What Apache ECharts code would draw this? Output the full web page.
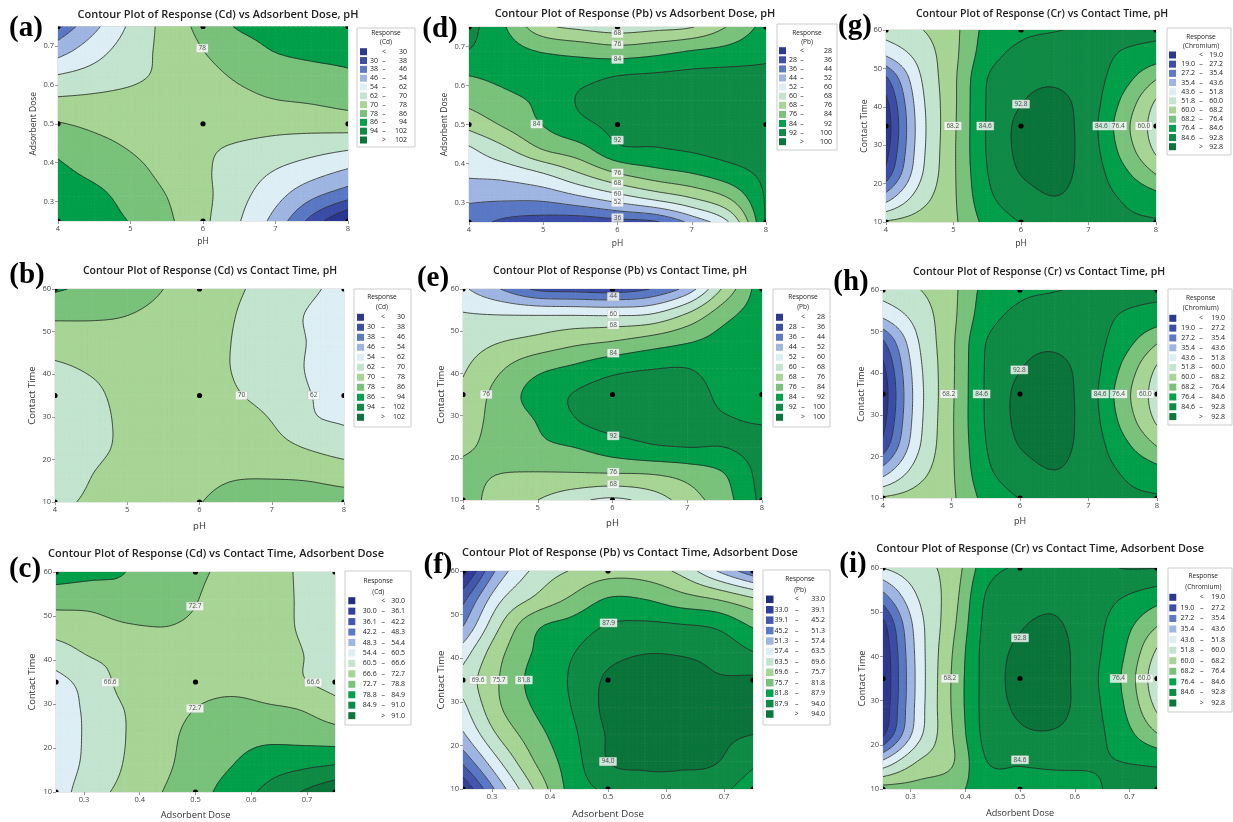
<!DOCTYPE html>
<html><head><meta charset="utf-8">
<script src="https://cdn.jsdelivr.net/npm/echarts@6/dist/echarts.min.js"></script>
<style>html,body{margin:0;padding:0;background:#fff}#c{width:1233px;height:822px}</style>
</head><body><div id="c"></div>
<script>
// ---------- sample grids ----------
const pHGrid = [4, 4.5, 5, 5.5, 6, 6.5, 7, 7.5, 8];
const doseGrid = [0.25, 0.3125, 0.375, 0.4375, 0.5, 0.5625, 0.625, 0.6875, 0.75];
const timeGrid = [10, 16.25, 22.5, 28.75, 35, 41.25, 47.5, 53.75, 60];
const designPH = [4, 6, 8];
const designDose = [0.25, 0.5, 0.75];
const designTime = [10, 35, 60];
const pHTicks = [4, 5, 6, 7, 8];
const doseTicks = [0.3, 0.4, 0.5, 0.6, 0.7];
const timeTicks = [10, 20, 30, 40, 50, 60];

// contour levels (legend break points)
const cdLevels = [30, 38, 46, 54, 62, 70, 78, 86, 94, 102];
const pbLevels = [28, 36, 44, 52, 60, 68, 76, 84, 92, 100];
const crLevels = [19.0, 27.2, 35.4, 43.6, 51.8, 60.0, 68.2, 76.4, 84.6, 92.8];
const cdLevelsC = [30.0, 36.1, 42.2, 48.3, 54.4, 60.5, 66.6, 72.7, 78.8, 84.9, 91.0];
const pbLevelsF = [33.0, 39.1, 45.2, 51.3, 57.4, 63.5, 69.6, 75.7, 81.8, 87.9, 94.0];

// (a) Cd : rows = dose (low->high), cols = pH
const cdDosePH = [
  [93, 89.5, 85.6, 79.5, 71.7, 62.4, 51, 35.1, 20],
  [90.4, 88, 83.2, 78, 72, 64.3, 56.4, 47.3, 40.2],
  [87.8, 84.2, 80.4, 76, 71.2, 66.2, 61.4, 57, 52.3],
  [84.2, 80.4, 77.6, 74.9, 71.4, 68.9, 66.9, 64.9, 63],
  [78.5, 76.5, 75.5, 74.5, 74, 73.5, 72.8, 73, 73.7],
  [70.9, 71.5, 72.5, 74, 75, 76.5, 78, 79, 80.8],
  [62.2, 65, 68, 72, 75.8, 79, 81, 83, 84.9],
  [50.7, 58.8, 66, 72.3, 77.9, 82.5, 86.3, 88, 88.5],
  [40, 52, 63.4, 72.8, 80.4, 86.8, 88.5, 90, 91]
];
// (b) Cd : rows = time, cols = pH
const cdTimePH = [
  [68.5, 71, 73.5, 75.5, 77.8, 80, 80.5, 80.5, 80.5],
  [66, 69.9, 73, 75, 76.5, 77.5, 77.5, 77, 75.5],
  [65, 68.2, 71.4, 73.5, 75, 74.5, 73, 69.8, 66.5],
  [65, 68.1, 71.2, 73, 74, 73, 70, 63.5, 61.5],
  [65.5, 68.6, 71.8, 73, 73.5, 70.6, 67.5, 62.5, 58.5],
  [68.5, 70.8, 72.7, 74, 73, 69.5, 66.2, 61.5, 56.5],
  [73.8, 74.5, 75.5, 75, 73.5, 69.5, 66, 61.8, 57],
  [79.2, 78.9, 78, 76.5, 74, 70, 65.7, 61.5, 57],
  [87, 84, 80.5, 78, 74.5, 71, 67.3, 63.7, 59]
];
// (c) Cd : rows = time, cols = dose
const cdTimeDose = [
  [57, 64.5, 68, 72.5, 76.5, 81.2, 86.1, 91, 96],
  [56, 62.5, 67, 71, 75.5, 78.5, 82, 83.5, 84.8],
  [56, 62, 66.6, 70, 75, 76.5, 77.5, 77, 76],
  [57, 62, 66.8, 69.5, 72.8, 74, 73.5, 72.6, 69.3],
  [58.5, 63, 68.5, 70, 71, 71.5, 70.5, 67.3, 64.5],
  [63.9, 67, 68.5, 70.5, 71, 71, 70, 67, 62.5],
  [69, 70, 72, 72.7, 72, 71.5, 70, 66, 62.5],
  [75.1, 75.1, 77, 75.5, 72.9, 71, 69.5, 66, 63],
  [82, 80.5, 78.8, 75.5, 73.5, 71.5, 69, 66, 63.5]
];
// (d) Pb : rows = dose, cols = pH
const pbDosePH = [
  [40, 34, 32, 31, 33, 35, 46.4, 60.1, 93],
  [45.5, 45.5, 46.2, 50.7, 56.5, 62.4, 68.2, 76.4, 93],
  [53.5, 55.1, 60, 68, 76, 80.8, 84, 88.5, 94],
  [58.8, 67, 76.5, 81.4, 90.5, 91.5, 93, 95, 96],
  [70.7, 77.4, 84.3, 90, 94, 95, 96.5, 97, 97],
  [78.3, 82, 86, 92.8, 95, 97, 98, 98, 97],
  [84, 86, 88, 89.5, 92, 93, 94, 94.5, 94],
  [91.6, 87, 83.5, 81.5, 79.7, 81.5, 84.5, 86.5, 90],
  [95, 84, 70.3, 66.2, 64, 65.5, 67.6, 76.8, 87]
];
// (e) Pb : rows = time, cols = pH
const pbTimePH = [
  [79, 73, 68, 62, 58.5, 63, 72, 81, 94],
  [77, 76, 75.5, 75.5, 75.8, 76.3, 79, 84, 95],
  [75.4, 77.5, 82, 84.1, 88, 91, 92, 92, 95],
  [73, 78.5, 84.5, 91.5, 95, 94.5, 94, 92.5, 91.5],
  [69.9, 79, 87.5, 92.5, 96, 97, 96, 90, 89.5],
  [67, 75, 81.9, 85.5, 89.5, 91.5, 92, 88, 89],
  [64, 67.8, 70.5, 74, 76.3, 79.7, 83.3, 87, 89],
  [60.7, 60.2, 60, 60, 59.8, 61, 69.5, 81.5, 88.5],
  [53.5, 44, 34.5, 33, 32, 36, 47.3, 70, 89]
];
// (f) Pb : rows = time, cols = dose
const pbTimeDose = [
  [33, 54, 70.5, 84, 89, 91.5, 92, 90, 84],
  [46.5, 63, 76, 85, 94, 95, 94.8, 94.2, 89.2],
  [56.5, 70.5, 79.5, 86.5, 94.5, 96.5, 96.5, 95, 94],
  [62, 75, 82.5, 88, 95.5, 97, 97, 96, 95.2],
  [65.5, 75.7, 84, 88.5, 95, 96.5, 96.5, 94.5, 94.8],
  [60.5, 74, 82.5, 87.5, 92, 93.8, 93.5, 92, 88.2],
  [51, 69, 80.5, 84, 88.2, 89, 88.3, 86.8, 81],
  [43, 62, 70.5, 76.5, 82, 81.5, 78, 75, 70],
  [30, 53.5, 65, 70, 73, 72.5, 68, 57.4, 47]
];
// (g) Cr : rows = time, cols = pH
const crTimePH = [
  [61, 64, 67, 79, 84.8, 87, 87.5, 86, 85.5],
  [40, 56, 67, 82.5, 89, 92.5, 89, 84, 79.5],
  [22.4, 50, 67, 84.3, 93, 95, 89.5, 79, 68],
  [16, 48, 67, 85.2, 94.5, 96, 89, 74, 58.5],
  [14, 47.4, 66.7, 85.3, 94.5, 96, 88.6, 71.9, 56],
  [17, 48.5, 66.5, 85.2, 92.5, 94.5, 89, 75, 59],
  [26, 51, 66.5, 84.5, 90, 91.5, 88.5, 80, 69],
  [45, 55, 66, 81, 86.5, 88, 87.5, 84, 81],
  [56, 59.5, 66, 79, 83, 84.3, 85.5, 87, 87]
];
// (h) Cr : rows = time, cols = pH
const crTimePH2 = [
  [61, 64, 67, 79, 84.8, 87, 87.5, 86, 85.5],
  [40, 56, 67, 82.5, 89, 92.5, 89, 84, 79.5],
  [22.4, 50, 67, 84.3, 93, 95, 89.5, 79, 68],
  [16, 48, 67, 85.2, 94.5, 96, 89, 74, 58.5],
  [14, 47.4, 66.7, 85.3, 94.5, 96, 88.6, 71.9, 56],
  [17, 48.5, 66.5, 85.2, 92.5, 94.5, 89, 75, 59],
  [26, 51, 66.5, 84.5, 90, 91.5, 88.5, 80, 69],
  [45, 55, 66, 81, 86.5, 88, 87.5, 84, 81],
  [56, 59.5, 66, 79, 83, 84.3, 85.5, 87, 87]
];
// (i) Cr : rows = time, cols = dose
const crTimeDose = [
  [72, 72, 74, 80, 81, 82, 83, 87, 88],
  [45, 60, 67, 84.3, 85.5, 86, 85.5, 84.5, 83],
  [17, 48, 67.5, 87, 91.5, 92, 88, 80, 68.5],
  [12, 46, 68.5, 87.5, 94, 95.5, 88, 77, 58],
  [11, 45.5, 68.5, 87.5, 95, 96, 87.5, 75.5, 54],
  [12, 46, 67.5, 87.5, 94, 95.5, 88, 77.5, 59],
  [17, 47.5, 65.5, 86.5, 92, 93.5, 88.5, 80, 69.5],
  [33, 52, 64, 85, 89, 91, 89, 85, 80.5],
  [52, 58, 63, 81, 85.5, 88, 90, 93, 93]
];

// contour labels [x, y, text]
const labelsA = [[5.99, 0.694, '78']];
const labelsB = [[6.58, 35, '70'], [7.58, 35, '62']];
const labelsC = [[0.499, 52.2, '72.7'], [0.347, 34.9, '66.6'], [0.499, 29, '72.7'], [0.711, 34.9, '66.6']];
const labelsD = [[6, 0.733, '68'], [6, 0.705, '76'], [6, 0.667, '84'], [4.91, 0.501, '84'], [6, 0.46, '92'],
                 [6, 0.376, '76'], [6, 0.349, '68'], [6, 0.322, '60'], [6, 0.3, '52'], [6, 0.261, '36']];
const labelsE = [[6.01, 58.2, '44'], [6.01, 54, '60'], [6.01, 51.5, '68'], [6.01, 44.8, '84'], [4.31, 35, '76'],
                 [6.01, 25.2, '92'], [6.01, 16.6, '76'], [6.01, 13.7, '68']];
const labelsF = [[0.501, 48.1, '87.9'], [0.276, 35, '69.6'], [0.312, 35, '75.7'], [0.355, 35, '81.8'], [0.5, 16.3, '94.0']];
const labelsG = [[6, 40.7, '92.8'], [4.99, 35, '68.2'], [5.47, 35, '84.6'], [7.19, 35, '84.6'], [7.44, 35, '76.4'], [7.82, 35, '60.0']];
const labelsH = [[5.99, 40.8, '92.8'], [4.96, 35, '68.2'], [5.44, 35, '84.6'], [7.17, 35, '84.6'], [7.44, 35, '76.4'], [7.83, 35, '60.0']];
const labelsI = [[0.5, 44.2, '92.8'], [0.372, 35, '68.2'], [0.68, 35, '76.4'], [0.727, 35, '60.0'], [0.5, 16.6, '84.6']];

// ---------- styles ----------
const colors11 = ['#2c3990', '#3d4ea7', '#5b79c4', '#9fb6e2', '#ddeff5', '#c3e4cf', '#a7d595', '#7ac27c', '#04a04b', '#108b46', '#0b753b'];
const colors12 = ['#242e7e', '#333f9c', '#4458ae', '#5b79c4', '#9fb6e2', '#ddeff5', '#c3e4cf', '#a7d595', '#7ac27c', '#04a04b', '#108b46', '#0b753b'];
const UI = '"Open Sans", "Noto Sans", sans-serif';

const panels = [
  {z: cdDosePH, xs: pHGrid, ys: doseGrid, th: cdLevels, dec: 0, metal: '(Cd)', title: 'Contour Plot of Response (Cd) vs Adsorbent Dose, pH', letter: '(a)',
   xName: 'pH', yName: 'Adsorbent Dose', xT: pHTicks, yT: doseTicks, xD: designPH, yD: designDose, labels: labelsA,
   L: {grid: [58, 26.5, 290, 194.5], title: [218, 15, 11], letter: [26, 29], xGap: 16, yGap: 20, ns: 8.5,
       lg: {x0: 357, y0: 28, x1: 415, y1: 147, tcx: 386, ty1: 33.3, ty2: 42.3, ey0: 51.7, step: 8.83, sx: 360, sw: 7, ln: 378, dx: 384, rn: 407}}},
  {z: pbDosePH, xs: pHGrid, ys: doseGrid, th: pbLevels, dec: 0, metal: '(Pb)', title: 'Contour Plot of Response (Pb) vs Adsorbent Dose, pH', letter: '(d)',
   xName: 'pH', yName: 'Adsorbent Dose', xT: pHTicks, yT: doseTicks, xD: designPH, yD: designDose, labels: labelsD,
   L: {grid: [469, 27, 297, 195], title: [635, 14, 11], letter: [440, 30], xGap: 17, yGap: 20, ns: 8.5,
       lg: {x0: 777, y0: 24, x1: 837, y1: 150, tcx: 807, ty1: 33.3, ty2: 42.3, ey0: 50.7, step: 9.1, sx: 779, sw: 7, ln: 797, dx: 802, rn: 832}}},
  {z: crTimePH, xs: pHGrid, ys: timeGrid, th: crLevels, dec: 1, metal: '(Chromium)', title: 'Contour Plot of Response (Cr) vs Contact Time, pH', letter: '(g)',
   xName: 'pH', yName: 'Contact Time', xT: pHTicks, yT: timeTicks, xD: designPH, yD: designTime, labels: labelsG,
   L: {grid: [886, 30, 270, 192], title: [1042, 14, 10.5], letter: [855, 27], xGap: 17, yGap: 17, ns: 8.7,
       lg: {x0: 1167, y0: 28, x1: 1231, y1: 155, tcx: 1201, ty1: 37.3, ty2: 46, ey0: 55, step: 9.17, sx: 1169, sw: 7, ln: 1195, dx: 1201, rn: 1223}}},
  {z: cdTimePH, xs: pHGrid, ys: timeGrid, th: cdLevels, dec: 0, metal: '(Cd)', title: 'Contour Plot of Response (Cd) vs Contact Time, pH', letter: '(b)',
   xName: 'pH', yName: 'Contact Time', xT: pHTicks, yT: timeTicks, xD: designPH, yD: designTime, labels: labelsB,
   L: {grid: [55, 289, 289, 213], title: [210, 271, 10.5], letter: [27, 276], xGap: 19, yGap: 18, ns: 9.5,
       lg: {x0: 354, y0: 289, x1: 411, y1: 427, tcx: 382, ty1: 297.3, ty2: 307, ey0: 317.3, step: 10, sx: 357, sw: 7, ln: 375, dx: 383, rn: 405}}},
  {z: pbTimePH, xs: pHGrid, ys: timeGrid, th: pbLevels, dec: 0, metal: '(Pb)', title: 'Contour Plot of Response (Pb) vs Contact Time, pH', letter: '(e)',
   xName: 'pH', yName: 'Contact Time', xT: pHTicks, yT: timeTicks, xD: designPH, yD: designTime, labels: labelsE,
   L: {grid: [463, 289, 299, 211], title: [620, 271, 10.5], letter: [433, 279], xGap: 18, yGap: 17, ns: 9.5,
       lg: {x0: 773, y0: 289, x1: 830, y1: 427, tcx: 803, ty1: 297.3, ty2: 307, ey0: 317.3, step: 10, sx: 776, sw: 7, ln: 796.7, dx: 803, rn: 825}}},
  {z: crTimePH2, xs: pHGrid, ys: timeGrid, th: crLevels, dec: 1, metal: '(Chromium)', title: 'Contour Plot of Response (Cr) vs Contact Time, pH', letter: '(h)',
   xName: 'pH', yName: 'Contact Time', xT: pHTicks, yT: timeTicks, xD: designPH, yD: designTime, labels: labelsH,
   L: {grid: [883, 290, 274, 208], title: [1039, 272, 10.5], letter: [851, 283], xGap: 19, yGap: 17, ns: 9,
       lg: {x0: 1168, y0: 289, x1: 1232, y1: 425, tcx: 1200.7, ty1: 298.3, ty2: 308.3, ey0: 318.3, step: 9.83, sx: 1169.3, sw: 7, ln: 1195, dx: 1201, rn: 1225}}},
  {z: cdTimeDose, xs: doseGrid, ys: timeGrid, th: cdLevelsC, dec: 1, metal: '(Cd)', title: 'Contour Plot of Response (Cd) vs Contact Time, Adsorbent Dose', letter: '(c)',
   xName: 'Adsorbent Dose', yName: 'Contact Time', xT: doseTicks, yT: timeTicks, xD: designDose, yD: designTime, labels: labelsC,
   L: {grid: [56, 572, 279, 220], title: [216, 554, 11], letter: [25, 570], xGap: 19, yGap: 19, ns: 9.3,
       lg: {x0: 345, y0: 571, x1: 411, y1: 725, tcx: 378.3, ty1: 580.7, ty2: 591.7, ey0: 600.7, step: 10.45, sx: 348.3, sw: 7, ln: 376.7, dx: 383.3, rn: 405}}},
  {z: pbTimeDose, xs: doseGrid, ys: timeGrid, th: pbLevelsF, dec: 1, metal: '(Pb)', title: 'Contour Plot of Response (Pb) vs Contact Time, Adsorbent Dose', letter: '(f)',
   xName: 'Adsorbent Dose', yName: 'Contact Time', xT: doseTicks, yT: timeTicks, xD: designDose, yD: designTime, labels: labelsF,
   L: {grid: [463, 571, 290, 218], title: [630, 553, 11], letter: [438, 566], xGap: 20, yGap: 17, ns: 9.6,
       lg: {x0: 763, y0: 570, x1: 830, y1: 725, tcx: 800, ty1: 579, ty2: 590, ey0: 599.3, step: 10.43, sx: 766, sw: 7.5, ln: 788.3, dx: 796.7, rn: 825}}},
  {z: crTimeDose, xs: doseGrid, ys: timeGrid, th: crLevels, dec: 1, metal: '(Chromium)', title: 'Contour Plot of Response (Cr) vs Contact Time, Adsorbent Dose', letter: '(i)',
   xName: 'Adsorbent Dose', yName: 'Contact Time', xT: doseTicks, yT: timeTicks, xD: designDose, yD: designTime, labels: labelsI,
   L: {grid: [883, 568, 274, 221], title: [1040, 549, 10.8], letter: [853, 565], xGap: 20, yGap: 16, ns: 9.1,
       lg: {x0: 1168, y0: 568, x1: 1232, y1: 712, tcx: 1203.3, ty1: 576, ty2: 586.7, ey0: 597.3, step: 10.57, sx: 1169.3, sw: 7, ln: 1194.3, dx: 1201.7, rn: 1225}}}
];

// ---------- contour rendering helpers ----------
function zAt(z, ix, iy) {
  const ny = z.length, nx = z[0].length;
  if (ix < 0) return 2 * zAt(z, 0, iy) - zAt(z, 1, iy);
  if (ix > nx - 1) return 2 * zAt(z, nx - 1, iy) - zAt(z, nx - 2, iy);
  if (iy < 0) return 2 * zAt(z, ix, 0) - zAt(z, ix, 1);
  if (iy > ny - 1) return 2 * zAt(z, ix, ny - 1) - zAt(z, ix, ny - 2);
  return z[iy][ix];
}
function cr(p0, p1, p2, p3, t) {
  return p1 + 0.5 * t * (p2 - p0 + t * (2 * p0 - 5 * p1 + 4 * p2 - p3 + t * (3 * (p1 - p2) + p3 - p0)));
}
function sampleSurface(z, fx, fy) {
  const ny = z.length, nx = z[0].length;
  const ix = Math.min(Math.floor(fx), nx - 2), iy = Math.min(Math.floor(fy), ny - 2);
  const tx = fx - ix, ty = fy - iy;
  const col = [];
  for (let m = -1; m <= 2; m++) col.push(cr(zAt(z, ix - 1, iy + m), zAt(z, ix, iy + m), zAt(z, ix + 1, iy + m), zAt(z, ix + 2, iy + m), tx));
  const v = cr(col[0], col[1], col[2], col[3], ty);
  const c = [z[iy][ix], z[iy][ix + 1], z[iy + 1][ix], z[iy + 1][ix + 1]];
  const lo = Math.min.apply(null, c), hi = Math.max.apply(null, c), mg = (hi - lo) * 0.2 + 0.3;
  return Math.max(lo - mg, Math.min(hi + mg, v));
}
function bandOf(v, th) { let k = 0; while (k < th.length && v >= th[k]) k++; return k; }
function clipPoly(poly, t, above) {
  const out = [];
  for (let n = 0; n < poly.length; n++) {
    const P = poly[n], Q = poly[(n + 1) % poly.length];
    const inP = above ? P[2] >= t : P[2] < t;
    const inQ = above ? Q[2] >= t : Q[2] < t;
    if (inP) out.push(P);
    if (inP !== inQ) {
      const r = (t - P[2]) / (Q[2] - P[2]);
      out.push([P[0] + (Q[0] - P[0]) * r, P[1] + (Q[1] - P[1]) * r, t]);
    }
  }
  return out;
}
function polyStr(poly) {
  let s = 'M' + poly[0][0].toFixed(2) + ',' + poly[0][1].toFixed(2);
  for (let n = 1; n < poly.length; n++) s += 'L' + poly[n][0].toFixed(2) + ',' + poly[n][1].toFixed(2);
  return s + 'Z';
}
function cellGeometry(P, api, mode) {
  const i = api.value(4), j = api.value(5);
  const p0 = api.coord([api.value(0), api.value(1)]);
  const p1 = api.coord([api.value(2), api.value(3)]);
  const S = 8, N = S + 1, pts = new Array(N * N);
  for (let b = 0; b <= S; b++) for (let a = 0; a <= S; a++) {
    pts[b * N + a] = [p0[0] + (p1[0] - p0[0]) * a / S, p0[1] + (p1[1] - p0[1]) * b / S, sampleSurface(P.z, i + a / S, j + b / S)];
  }
  const th = P.th, nb = th.length + 1;
  const bands = []; for (let k = 0; k < nb; k++) bands.push([]);
  const lines = [];
  function tri(A, B, C) {
    const vmin = Math.min(A[2], B[2], C[2]), vmax = Math.max(A[2], B[2], C[2]);
    const kmin = bandOf(vmin, th), kmax = bandOf(vmax, th);
    if (mode === 'fill') {
      if (kmin === kmax) { bands[kmin].push(polyStr([A, B, C])); return; }
      for (let k = kmin; k <= kmax; k++) {
        let poly = [A, B, C];
        if (k > kmin) poly = clipPoly(poly, th[k - 1], true);
        if (poly.length >= 3 && k < kmax) poly = clipPoly(poly, th[k], false);
        if (poly.length >= 3) bands[k].push(polyStr(poly));
      }
    } else {
      for (let k = kmin; k < kmax; k++) {
        const t = th[k];
        const e = [];
        const edges = [[A, B], [B, C], [C, A]];
        for (const [U, V] of edges) {
          if ((U[2] < t) !== (V[2] < t)) {
            const r = (t - U[2]) / (V[2] - U[2]);
            e.push([U[0] + (V[0] - U[0]) * r, U[1] + (V[1] - U[1]) * r]);
          }
        }
        if (e.length === 2) lines.push('M' + e[0][0].toFixed(2) + ',' + e[0][1].toFixed(2) + 'L' + e[1][0].toFixed(2) + ',' + e[1][1].toFixed(2));
      }
    }
  }
  for (let b = 0; b < S; b++) for (let a = 0; a < S; a++) {
    const q00 = pts[b * N + a], q10 = pts[b * N + a + 1], q01 = pts[(b + 1) * N + a], q11 = pts[(b + 1) * N + a + 1];
    tri(q00, q10, q11); tri(q00, q11, q01);
  }
  if (mode === 'fill') {
    const children = [];
    bands.forEach((arr, k) => {
      if (arr.length) children.push({type: 'path', shape: {pathData: arr.join('')}, style: {fill: P.colors[k], stroke: P.colors[k], lineWidth: 0.6}});
    });
    return {type: 'group', children: children};
  }
  if (!lines.length) return null;
  return {type: 'path', shape: {pathData: lines.join('')}, style: {fill: 'none', stroke: '#262626', lineWidth: 0.8}};
}

// ---------- build option ----------
const grids = [], xAxes = [], yAxes = [], series = [], graphics = [];
function txt(x, y, s, size, align, extra) {
  return Object.assign({type: 'text', x: x, y: y, z: 20, silent: true,
    style: {text: s, fill: '#222', font: size + 'px ' + UI, textAlign: align, align: align, textVerticalAlign: 'middle', verticalAlign: 'middle'}}, extra || {});
}
function fmtTick(v, isDose) { return isDose ? v.toFixed(1) : String(Math.round(v)); }

panels.forEach((P, k) => {
  P.colors = P.th.length === 11 ? colors12 : colors11;
  const L = P.L;
  grids.push({left: L.grid[0], top: L.grid[1], width: L.grid[2], height: L.grid[3], show: true, borderColor: '#cfcfcf', borderWidth: 1, backgroundColor: 'transparent'});
  const xDose = P.xs === doseGrid, yDose = P.ys === doseGrid;
  xAxes.push({gridIndex: k, type: 'value', min: P.xs[0], max: P.xs[P.xs.length - 1],
    axisLine: {show: false}, splitLine: {show: false},
    axisTick: {show: true, length: 3, lineStyle: {color: '#999'}, customValues: P.xT},
    axisLabel: {customValues: P.xT, formatter: v => fmtTick(v, xDose), fontSize: 7.5, color: '#444', margin: 4, fontFamily: UI},
    name: P.xName, nameLocation: 'middle', nameGap: L.xGap, nameTextStyle: {fontSize: L.ns, color: '#333', fontFamily: UI}});
  yAxes.push({gridIndex: k, type: 'value', min: P.ys[0], max: P.ys[P.ys.length - 1],
    axisLine: {show: false}, splitLine: {show: false},
    axisTick: {show: true, length: 3, lineStyle: {color: '#999'}, customValues: P.yT},
    axisLabel: {customValues: P.yT, formatter: v => fmtTick(v, yDose), fontSize: 7.5, color: '#444', margin: 4, fontFamily: UI},
    name: P.yName, nameLocation: 'middle', nameGap: L.yGap, nameTextStyle: {fontSize: L.ns, color: '#333', fontFamily: UI}});

  const cells = [];
  for (let j = 0; j < P.ys.length - 1; j++) for (let i = 0; i < P.xs.length - 1; i++) {
    cells.push([P.xs[i], P.ys[j], P.xs[i + 1], P.ys[j + 1], i, j]);
  }
  series.push({type: 'custom', coordinateSystem: 'cartesian2d', xAxisIndex: k, yAxisIndex: k, clip: true, silent: true, z: 2,
    data: cells, encode: {x: [0, 2], y: [1, 3]}, renderItem: (params, api) => cellGeometry(P, api, 'fill')});
  series.push({type: 'custom', coordinateSystem: 'cartesian2d', xAxisIndex: k, yAxisIndex: k, clip: true, silent: true, z: 3,
    data: cells, encode: {x: [0, 2], y: [1, 3]}, renderItem: (params, api) => cellGeometry(P, api, 'line')});
  const dots = [];
  P.xD.forEach(x => P.yD.forEach(y => dots.push([x, y])));
  series.push({type: 'custom', coordinateSystem: 'cartesian2d', xAxisIndex: k, yAxisIndex: k, clip: true, silent: true, z: 4,
    data: dots, encode: {x: 0, y: 1}, renderItem: (params, api) => {
      const c = api.coord([api.value(0), api.value(1)]);
      return {type: 'circle', shape: {cx: c[0], cy: c[1], r: 2.6}, style: {fill: '#000'}};
    }});
  series.push({type: 'scatter', xAxisIndex: k, yAxisIndex: k, silent: true, z: 5, symbolSize: 0.5, itemStyle: {color: '#fff'},
    data: P.labels.map(l => ({value: [l[0], l[1]], name: l[2]})),
    label: {show: true, position: 'inside', formatter: '{b}', fontSize: 6.5, color: '#222', fontFamily: UI,
      backgroundColor: '#fff', padding: [1, 2, 0, 2], borderColor: '#bbb', borderWidth: 0.4}});

  // title & letter
  graphics.push(txt(L.title[0], L.title[1], P.title, L.title[2], 'center', {style: {text: P.title, fill: '#222', font: '600 ' + L.title[2] + 'px ' + UI, textAlign: 'center', align: 'center', textVerticalAlign: 'middle', verticalAlign: 'middle'}}));
  graphics.push({type: 'text', x: L.letter[0], y: L.letter[1], z: 20, silent: true,
    style: {text: P.letter, fill: '#000', font: 'bold 29px "Liberation Serif", "Times New Roman", serif', textAlign: 'center', align: 'center', textVerticalAlign: 'middle', verticalAlign: 'middle'}});

  // legend
  const g = L.lg;
  graphics.push({type: 'rect', z: 15, silent: true, shape: {x: g.x0, y: g.y0, width: g.x1 - g.x0, height: g.y1 - g.y0}, style: {fill: '#fff', stroke: '#cbcbcb', lineWidth: 1}});
  graphics.push(txt(g.tcx, g.ty1, 'Response', 6.5, 'center'));
  graphics.push(txt(g.tcx, g.ty2, P.metal, 6.5, 'center'));
  const nb = P.th.length + 1;
  const f = v => v.toFixed(P.dec);
  for (let b = 0; b < nb; b++) {
    const y = g.ey0 + b * g.step;
    graphics.push({type: 'rect', z: 16, silent: true, shape: {x: g.sx, y: y - g.sw / 2, width: g.sw, height: g.sw}, style: {fill: P.colors[b]}});
    if (b === 0) {
      graphics.push(txt(g.dx, y, '<', 7, 'center'));
      graphics.push(txt(g.rn, y, f(P.th[0]), 7, 'right'));
    } else if (b === nb - 1) {
      graphics.push(txt(g.dx, y, '>', 7, 'center'));
      graphics.push(txt(g.rn, y, f(P.th[nb - 2]), 7, 'right'));
    } else {
      graphics.push(txt(g.ln, y, f(P.th[b - 1]), 7, 'right'));
      graphics.push(txt(g.dx, y, '–', 7, 'center'));
      graphics.push(txt(g.rn, y, f(P.th[b]), 7, 'right'));
    }
  }
});

const chart = echarts.init(document.getElementById('c'), null, {renderer: 'canvas'});
chart.setOption({
  animation: false,
  backgroundColor: '#fff',
  grid: grids, xAxis: xAxes, yAxis: yAxes, series: series,
  graphic: {elements: graphics}
});
</script></body></html>
